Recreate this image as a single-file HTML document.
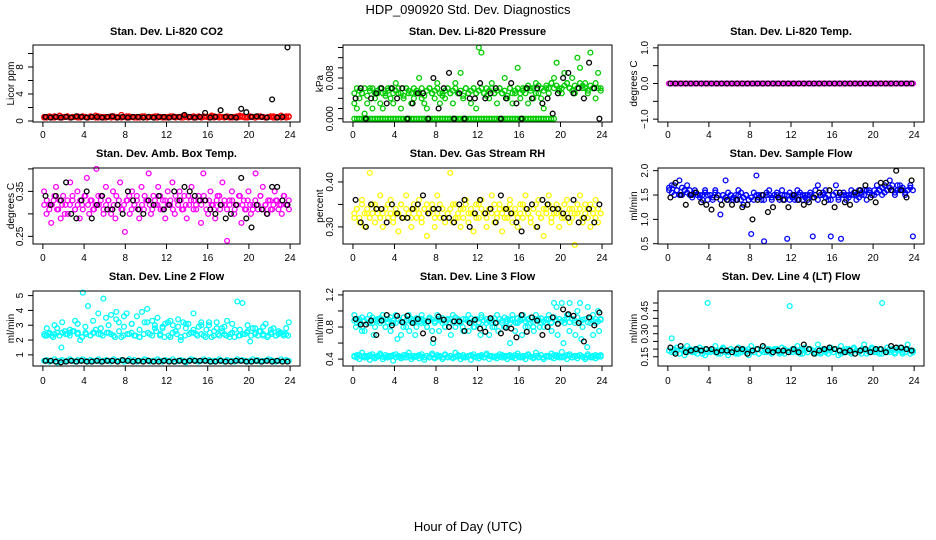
<!DOCTYPE html>
<html><head><meta charset="utf-8">
<style>
html,body{margin:0;padding:0;background:#fff;}
svg{display:block;font-family:"Liberation Sans",Arial,sans-serif;}
</style></head>
<body>
<svg id="chart" width="936" height="540" viewBox="0 0 936 540" xmlns="http://www.w3.org/2000/svg">
<text x="468" y="14" text-anchor="middle" font-size="13">HDP_090920  Std. Dev. Diagnostics</text>
<text x="468" y="531" text-anchor="middle" font-size="13">Hour of Day (UTC)</text>
</svg>
<script>
// ---- data ----
const xTicks = [0,4,8,12,16,20,24];
const panelTitles = ["Stan. Dev. Li-820 CO2","Stan. Dev. Li-820 Pressure","Stan. Dev. Li-820 Temp.","Stan. Dev. Amb. Box Temp.","Stan. Dev. Gas Stream RH","Stan. Dev. Sample Flow","Stan. Dev. Line 2 Flow","Stan. Dev. Line 3 Flow","Stan. Dev. Line 4 (LT) Flow"];
const yLabels = ["Licor ppm","kPa","degrees C","degrees C","percent","ml/min","ml/min","ml/min","ml/min"];
const yLimits = [[-0.15,11.26],[-0.00065,0.01449],[-1.08,1.08],[0.233,0.402],[0.262,0.431],[0.494,2.055],[0.25,5.31],[0.314,1.249],[0.09,0.578]];
const yTickVals = [[0,2,4,6,8,10],[0,0.002,0.004,0.006,0.008,0.010,0.012,0.014],[-1,-0.5,0,0.5,1],[0.25,0.30,0.35,0.40],[0.30,0.35,0.40],[0.5,1.0,1.5,2.0],[1,2,3,4,5],[0.4,0.6,0.8,1.0,1.2],[0.15,0.20,0.25,0.30,0.35,0.40,0.45,0.50]];
const yTickLabels = [["0","","4","","8",""],["0.000","","","","0.008","","",""],["\u22121.0","","0.0","","1.0"],["0.25","","0.35",""],["0.30","","0.40"],["0.5","1.0","1.5","2.0"],["1","2","3","4","5"],["0.4","","0.8","","1.2"],["0.15","","","0.30","","","0.45",""]];

const co2Red = [.6,.5,.7,.6,.5,.6,.8,.5,.6,.7,.5,.6,.6,.7,.5,.6,.6,.5,.7,.6,.8,.5,.6,.6,.5,.6,.7,.6,.5,.6,.9,.6,.5,.7,.6,.5,.6,.5,.6,.7,.5,.6,.6,.5,.7,.6,.5,.6,.5,.6,.7,.6,.6,.5,.8,.6,.5,.6,.7,.5,.6,.5,.7,.6,.6,.8,.5,.6,.7,.6,.5,.6,.6,.5,.6,.7,.8,.6,.5,.6,.7,.6,.5,.6,.7,.6,.5,.6,.6,.7,.5,.6,.8,.6,.5,.7];
const co2Red2 = [.5,.6,.6,.5,.7,.6,.5,.6,.6,.7,.5,.6,.6,.5,.6,.7,.6,.5,.6,.6,.5,.7,.6,.5,.6,.6,.5,.7,.6,.6,.5,.6,.7,.5,.6,.6,.5,.6,.7,.6,.5,.6,.6,.7,.5,.6,.6,.5,.6,.7,.6,.5,.6,.6,.5,.7,.6,.6,.5,.6,.7,.5,.6,.6,.5,.6,.7,.6,.5,.6,.6,.7,.5,.6,.6,.5,.6,.7,.6,.5,.6,.6,.5,.7,.6,.6,.5,.6,.7,.5,.6,.6,.5,.6,.7,.6];
const co2Black = [.6,.5,.6,.5,.6,.5,.7,.6,.5,.6,.6,.5,.6,.7,.5,.6,.5,.6,.6,.5,.6,.5,.6,.6,.5,.6,.6,.9,.6,.5,.6,1.2,.5,.6,1.6,.6,.6,.5,1.8,1.3,.6,.7,.6,.5,3.2,.5,.6,10.9];
const presGreen = [.003,.002,.004,.005,.001,.003,.006,.002,.004,.005,.003,.002,.005,.006,.004,.003,.007,.005,.002,.004,.006,.005,.003,.004,.005,.008,.004,.003,.002,.006,.005,.004,.007,.003,.005,.004,.006,.005,.003,.007,.005,.009,.004,.006,.005,.003,.006,.002,.014,.013,.005,.006,.004,.007,.005,.003,.006,.005,.008,.004,.006,.003,.005,.010,.004,.006,.005,.003,.006,.004,.007,.005,.004,.002,.006,.005,.007,.008,.011,.006,.005,.009,.007,.006,.008,.005,.012,.010,.006,.007,.005,.013,.006,.004,.009,.006];
const presCore = [.005,.006,.0055,.005,.006,.0045,.0055,.006,.005,.0055,.006,.005,.0045,.0055,.006,.005,.0055,.006,.005,.0045,.006,.0055,.005,.006,.0055,.005,.006,.0045,.0055,.006,.005,.0055,.006,.005,.0045,.0055,.006,.005,.0055,.006,.005,.0055,.0045,.006,.005,.0055,.006,.005,.0055,.006,.005,.0045,.0055,.006,.005,.0055,.006,.005,.0055,.0045,.006,.005,.0055,.006,.005,.0055,.006,.0065,.0055,.006,.005,.0065,.006,.0055,.0065,.006,.007,.006,.0065,.0055,.006,.0065,.007,.006,.0055,.0065,.006,.007,.0065,.006,.0055,.0065,.006,.007,.006,.0055];
const presGreenZero = [0,0,0,0,0,0,0,0,0,0,0,0,0,0,0,0,0,0,0,0,0,0,0,0,0,0,0,0,0,0,0,0,0,0,0,0,0,0,0,0,0,0,0,0,0,0,0,0,0,0,0,0,0,0,0,0,0,0,0,0,0,0,0,0,0,0,0,0,0,0,0,0,0,0,0,0,0,0,null,null,null,null,null,null,null,null,null,null,null,null,null,null,null,null,null,null];
const presBlack = [.004,.006,0,.004,.005,.006,.003,.006,.004,.006,0,.003,.005,.005,0,.008,.002,.006,.009,0,.005,0,.004,.004,.007,.004,.005,.006,0,.004,.007,.003,0,.006,.004,.006,.003,.004,.001,.005,.008,.009,.005,.006,.004,.011,.006,0];
const tempMagenta = [0,0,0,0,0,0,0,0,0,0,0,0,0,0,0,0,0,0,0,0,0,0,0,0,0,0,0,0,0,0,0,0,0,0,0,0,0,0,0,0,0,0,0,0,0,0,0,0,0,0,0,0,0,0,0,0,0,0,0,0,0,0,0,0,0,0,0,0,0,0,0,0,0,0,0,0,0,0,0,0,0,0,0,0,0,0,0,0,0,0,0,0,0,0,0,0,0,0,0,0,0,0,0,0,0,0,0,0,0,0,0,0,0,0,0,0,0,0,0,0];
const tempBlack = [0,0,0,0,0,0,0,0,0,0,0,0,0,0,0,0,0,0,0,0,0,0,0,0,0,0,0,0,0,0,0,0,0,0,0,0,0,0,0,0,0,0,0,0,0,0,0,0];
const ambMagenta = [.35,.30,.32,.28,.33,.36,.31,.29,.34,.32,.30,.37,.33,.31,.35,.29,.32,.34,.38,.30,.33,.31,.40,.32,.34,.30,.36,.33,.31,.35,.29,.32,.37,.31,.26,.33,.30,.35,.32,.34,.29,.36,.31,.33,.39,.30,.34,.32,.36,.31,.33,.29,.35,.32,.37,.30,.33,.35,.31,.34,.29,.32,.36,.33,.31,.34,.28,.39,.33,.30,.35,.32,.29,.34,.31,.37,.32,.24,.33,.35,.30,.32,.34,.28,.33,.31,.35,.30,.32,.39,.31,.34,.36,.32,.30,.33,.31,.35,.33,.32,.30,.34,.32,.31];
const ambCore = [.32,.33,.31,.32,.34,.31,.33,.32,.30,.33,.32,.34,.31,.32,.33,.31,.34,.32,.33,.31,.32,.34,.33,.31,.32,.33,.30,.32,.34,.33,.31,.32,.33,.34,.31,.32,.33,.31,.32,.34,.33,.32,.31,.33,.32,.34,.31,.33,.32,.33,.31,.34,.32,.33,.31,.32,.34,.33,.31,.32,.33,.32,.34,.31,.33,.32,.31,.33,.34,.32,.33,.31,.32,.33,.31,.32,.34,.32,.31,.33,.32,.31,.33,.32,.34,.31,.32,.33,.31,.32,.33,.31,.32,.34,.32,.33];
const ambBlack = [.34,.32,.34,.33,.37,.30,.29,.33,.35,.29,.32,.34,.31,.31,.32,.30,.35,.33,.31,.30,.33,.32,.34,.31,.32,.35,.33,.36,.35,.34,.33,.33,.31,.30,.32,.29,.30,.32,.38,.29,.27,.32,.31,.30,.36,.36,.33,.32];
const rhYellow = [.32,.34,.31,.36,.30,.33,.42,.35,.31,.33,.37,.30,.34,.32,.36,.31,.33,.29,.35,.32,.37,.33,.30,.34,.32,.36,.31,.34,.28,.33,.35,.30,.37,.32,.34,.31,.33,.42,.31,.35,.32,.30,.34,.36,.31,.33,.29,.35,.32,.36,.33,.30,.34,.37,.31,.33,.35,.29,.32,.34,.36,.31,.33,.30,.35,.32,.37,.33,.31,.34,.30,.36,.32,.28,.34,.37,.31,.33,.35,.30,.33,.32,.36,.31,.34,.26,.33,.37,.31,.35,.32,.30,.34,.36,.31,.33];
const rhCore = [.33,.34,.32,.35,.33,.34,.32,.33,.35,.34,.32,.33,.34,.35,.33,.32,.34,.33,.35,.32,.34,.33,.32,.35,.34,.33,.32,.34,.35,.33,.34,.32,.33,.35,.34,.32,.33,.34,.35,.32,.33,.34,.32,.35,.33,.34,.33,.32,.35,.34,.33,.32,.34,.33,.35,.32,.34,.33,.34,.32,.35,.33,.34,.32,.33,.35,.34,.33,.32,.34,.35,.33,.32,.34,.33,.35,.32,.34,.33,.34,.32,.35,.33,.34,.32,.33,.35,.34,.32,.33,.34,.35,.33,.32,.34,.33];
const rhBlack = [.36,.31,.30,.35,.34,.34,.31,.35,.33,.32,.32,.34,.35,.37,.33,.34,.34,.32,.32,.31,.35,.36,.30,.33,.36,.33,.34,.31,.37,.34,.33,.31,.29,.34,.35,.30,.36,.35,.34,.34,.33,.32,.36,.31,.32,.34,.31,.35];
const flowBlue = [1.6,1.7,1.5,1.6,1.8,1.5,1.6,1.7,1.6,1.5,1.6,1.5,1.5,1.4,1.6,1.5,1.5,1.4,1.6,1.5,1.1,1.5,1.8,1.4,1.5,1.4,1.5,1.6,1.4,1.3,1.5,1.4,0.7,1.4,1.9,1.5,1.4,0.55,1.5,1.6,1.4,1.5,1.5,1.4,1.6,1.5,0.6,1.4,1.5,1.4,1.6,1.5,1.4,1.5,1.4,1.5,0.65,1.6,1.7,1.5,1.5,1.6,1.4,0.65,1.5,1.7,1.4,0.6,1.5,1.4,1.5,1.6,1.5,1.4,1.6,1.5,1.6,1.4,1.6,1.5,1.5,1.7,1.6,1.5,1.7,1.6,1.8,1.7,1.5,1.6,1.7,1.6,1.5,1.6,1.7,0.65];
const flowCore = [1.65,1.55,1.7,1.6,1.5,1.65,1.6,1.55,1.5,1.45,1.55,1.5,1.45,1.5,1.55,1.4,1.5,1.45,1.55,1.5,1.4,1.5,1.45,1.55,1.5,1.45,1.4,1.5,1.55,1.45,1.5,1.4,1.45,1.55,1.5,1.45,1.5,1.4,1.55,1.5,1.45,1.5,1.55,1.45,1.5,1.4,1.5,1.55,1.45,1.5,1.4,1.55,1.5,1.45,1.5,1.55,1.45,1.5,1.4,1.5,1.55,1.45,1.5,1.4,1.5,1.55,1.45,1.5,1.55,1.5,1.45,1.5,1.55,1.5,1.45,1.55,1.5,1.6,1.55,1.5,1.6,1.55,1.6,1.65,1.55,1.6,1.65,1.6,1.55,1.7,1.6,1.65,1.55,1.6,1.65,1.6];
const flowBlack = [1.45,1.75,1.5,1.3,1.5,1.55,1.35,1.3,1.2,1.45,1.3,1.4,1.3,1.4,1.25,1.3,1.0,1.4,1.5,1.15,1.25,1.45,1.4,1.25,1.5,1.4,1.3,1.35,1.45,1.55,1.35,1.6,1.25,1.55,1.35,1.3,1.55,1.6,1.7,1.45,1.35,1.75,1.75,1.6,2.0,1.6,1.45,1.8];
const line2High = [2.4,2.3,2.5,2.3,2.4,2.8,2.3,2.5,2.6,2.4,2.5,2.6,3.3,2.4,2.0,5.2,2.5,4.3,2.3,2.5,2.7,3.8,2.4,4.8,3.5,2.5,3.7,2.3,3.9,3.2,2.2,3.6,3.8,2.4,3.1,2.3,3.6,2.2,3.9,3.2,4.1,2.4,3.3,2.8,3.5,2.3,2.9,3.1,3.2,2.2,3.0,2.6,3.4,2.0,3.2,2.8,3.1,2.5,3.8,2.4,2.9,3.2,2.3,2.7,3.0,2.2,2.6,3.2,2.3,2.8,2.4,3.3,2.2,2.5,2.7,4.6,2.3,4.5,2.4,2.6,1.9,2.8,2.5,2.3,2.6,2.4,3.1,2.3,2.5,2.8,2.3,2.4,2.5,2.3,2.4,3.2];
const line2Core = [2.3,2.4,2.2,2.5,1.5,2.4,2.3,2.6,2.5,2.2,2.4,2.3,2.5,2.4,2.3,2.5,2.4,2.2,2.6,2.3,2.4,2.5,2.3,2.2,2.4,2.5,2.3,2.6,2.4,2.2,2.3,2.5,2.4,2.2,2.3,2.4,2.5,2.3,2.4,2.2,2.5,2.3,2.4,2.6,2.3,2.4,2.2,2.3,2.4,2.5,2.3,2.4,2.6,2.3,2.2,2.4,2.3,2.5,2.4,2.3];
const line2Mid = [2.8,3.0,3.2,2.7,3.1,2.9,3.3,2.8,3.0,3.4,2.9,3.1,2.7,3.2,3.0,2.8,3.3,2.9,3.1,2.7,3.0,3.2,2.8,2.9,3.1,2.7,3.0,2.8,2.9,2.7,2.6,2.8];
const line2Low = [.6,.65,.55,.6,.7,.5,.6,.65,.55,.6,.7,.6,.55,.65,.6,.7,.6,.55,.65,.6,.6,.7,.55,.6,.65,.6,.55,.7,.6,.6,.65,.55,.6,.7,.6,.65,.55,.6,.6,.7,.65,.55,.6,.6,.7,.6,.55,.65,.6,.6,.7,.55,.6,.65,.6,.5,.6,.7,.65,.6,.55,.6,.7,.6,.65,.55,.6,.6,.7,.6,.55,.65,.6,.6,.55,.7,.6,.65,.6,.55,.6,.7,.6,.65,.55,.6,.6,.7,.65,.6,.55,.6,.7,.6,.65,.6];
const line2Black = [.6,.6,.55,.5,.55,.6,.55,.6,.55,.55,.6,.55,.6,.6,.55,.65,.6,.55,.6,.55,.6,.55,.55,.6,.55,.55,.6,.55,.6,.6,.6,.6,.55,.55,.6,.55,.55,.6,.6,.55,.55,.6,.55,.6,.55,.6,.55,.55];
const line3High = [.95,.85,.9,.8,.75,.9,.95,.85,.8,.9,.85,.95,.8,.9,.75,.85,.95,.9,.7,.85,.8,.95,.9,.85,.8,.9,.95,.85,.8,.9,.75,.85,.95,.9,.85,.8,.9,.85,.95,.8,.9,.85,.75,.9,.95,.85,.8,.9,.85,.95,.8,.9,.7,.85,.8,.95,.9,.85,.8,.9,.85,.95,.75,.85,.9,.95,.8,.9,.85,.8,.95,.9,.85,.8,.9,.95,.85,1.1,1.05,.9,1.1,.85,.95,1.1,.9,.85,1.0,1.1,.8,.9,1.05,.85,.95,.85,1.0,.9];
const line3Core = [.88,.9,.86,.92,.88,.9,.85,.92,.89,.87,.91,.88,.9,.86,.92,.88,.85,.9,.87,.92,.88,.9,.86,.89,.91,.87,.9,.88,.86,.92,.89,.87,.9,.88,.91,.86,.89,.9,.87,.92,.88,.86,.9,.89,.87,.91,.88,.9,.86,.92,.88,.9,.87,.89,.91,.86,.9,.88,.92,.87,.89,.9,.86,.91,.88,.9,.87,.89,.92,.86,.9,.88,.91,.87,.89,.9,.86,.92,.88,.9,.87,.89,.91,.86,.9,.88,.92,.87,.89,.9,.86,.91,.88,.9,.87,.89];
const line3Mid = [.8,.75,.85,.7,.9,.8,.85,.65,.8,.75,.7,.85,.8,.6,.75,.8,.7,.85,.8,.75,.8,.7,.85,.8,.75,.8,.6,.85,.7,.8,.75,.8,.85,.75,.7,.6,.75,.7,.65,.55,.7,.75];
const line3Low = [.43,.45,.40,.48,.42,.44,.39,.46,.41,.43,.47,.40,.45,.42,.44,.38,.46,.43,.41,.45,.42,.48,.40,.44,.43,.41,.46,.39,.44,.42,.47,.41,.45,.43,.40,.46,.42,.44,.41,.48,.43,.40,.45,.42,.44,.39,.46,.43,.41,.45,.42,.47,.40,.44,.43,.41,.46,.42,.44,.40,.45,.43,.41,.47,.42,.44,.40,.46,.43,.41,.48,.42,.45,.40,.44,.43,.47,.41,.45,.42,.49,.43,.40,.46,.42,.44,.41,.45,.43,.40,.46,.42,.44,.41,.43,.45];
const line3Low2 = [.44,.42,.45,.43,.44,.42,.45,.43,.42,.44,.45,.43,.42,.44,.43,.45,.42,.44,.43,.42,.45,.44,.43,.42,.44,.45,.43,.42,.44,.43,.45,.42,.43,.44,.42,.45,.43,.44,.42,.43,.45,.44,.42,.43,.44,.45,.43,.42,.44,.43,.42,.45,.44,.43,.42,.44,.43,.45,.42,.44,.43,.42,.45,.44,.43,.42,.44,.45,.43,.42,.44,.43,.45,.42,.43,.44,.42,.45,.43,.44,.42,.43,.45,.44,.42,.43,.44,.45,.43,.42,.44,.43,.42,.45,.44,.43];
const line3Black = [.9,.83,.83,.88,.7,.88,.95,.82,.94,.86,.94,.85,.9,.72,.87,.65,.93,.89,.8,.87,.87,.75,.85,.89,.78,.74,.91,.85,.72,.79,.78,.67,.95,.74,.92,.88,.7,.8,.92,.84,1.02,.96,.94,.85,.62,.92,.82,.98];
const line4Cyan = [.19,.27,.18,.21,.17,.2,.16,.22,.19,.18,.2,.17,.21,.19,.16,.5,.18,.2,.22,.17,.19,.21,.18,.16,.2,.19,.17,.21,.18,.2,.19,.16,.22,.18,.2,.17,.19,.21,.18,.2,.17,.19,.2,.18,.21,.17,.19,.48,.18,.2,.22,.19,.17,.21,.18,.2,.19,.17,.23,.18,.2,.19,.17,.21,.18,.2,.16,.22,.19,.18,.2,.17,.21,.19,.18,.2,.23,.17,.19,.21,.18,.2,.17,.5,.19,.21,.18,.2,.17,.19,.21,.18,.2,.23,.17,.19];
const line4Core = [.19,.18,.2,.19,.17,.2,.19,.18,.2,.19,.18,.2,.19,.17,.2,.18,.19,.2,.18,.19,.17,.2,.19,.18,.2,.19,.18,.17,.2,.19,.18,.2,.19,.18,.2,.17,.19,.18,.2,.19,.18,.2,.19,.17,.18,.2,.19,.18,.2,.19,.18,.17,.2,.19,.18,.2,.19,.18,.2,.17,.19,.18,.2,.19,.18,.2,.19,.17,.18,.2,.19,.18,.2,.19,.18,.17,.2,.19,.18,.2,.19,.18,.2,.17,.19,.18,.2,.19,.18,.2,.19,.17,.18,.2,.19,.18];
const line4Black = [.21,.17,.22,.18,.19,.2,.19,.2,.2,.18,.19,.19,.18,.2,.2,.17,.19,.2,.22,.19,.18,.19,.19,.18,.2,.18,.23,.2,.17,.19,.2,.21,.2,.19,.18,.19,.17,.19,.2,.18,.2,.2,.18,.22,.21,.21,.2,.19];

const panelSeries = [
  [[co2Red,"#ff0000"],[co2Red2,"#ff0000"],[co2Black,"#000000"]],
  [[presGreenZero,"#00cc00"],[presGreen,"#00cc00"],[presCore,"#00cc00"],[presBlack,"#000000"]],
  [[tempMagenta,"#ff00ff"],[tempBlack,"#000000"]],
  [[ambMagenta,"#ff00ff"],[ambCore,"#ff00ff"],[ambBlack,"#000000"]],
  [[rhYellow,"#ffff00"],[rhCore,"#ffff00"],[rhBlack,"#000000"]],
  [[flowBlue,"#0000ff"],[flowCore,"#0000ff"],[flowBlack,"#000000"]],
  [[line2High,"#00ffff"],[line2Core,"#00ffff"],[line2Mid,"#00ffff"],[line2Low,"#00ffff"],[line2Black,"#000000"]],
  [[line3High,"#00ffff"],[line3Core,"#00ffff"],[line3Mid,"#00ffff"],[line3Low,"#00ffff"],[line3Low2,"#00ffff"],[line3Black,"#000000"]],
  [[line4Cyan,"#00ffff"],[line4Core,"#00ffff"],[line4Black,"#000000"]]
];

// ---- layout ----
const cols = [{l:33,r:300,ylab:11},{l:343,r:612,ylab:320},{l:658,r:924,ylab:634}];
const rows = [{t:45,b:122,tl:35,xl:138},{t:168,b:244,tl:157,xl:261},{t:291,b:366,tl:280,xl:384}];
const NS = "http://www.w3.org/2000/svg";
const svg = document.getElementById("chart");
function mk(tag, attrs, parent){ const e=document.createElementNS(NS,tag); for(const k in attrs) e.setAttribute(k,attrs[k]); (parent||svg).appendChild(e); return e; }

panelTitles.forEach((title,p)=>{
  const c=cols[p%3], r=rows[Math.floor(p/3)];
  const g=mk("g",{});
  
  
  const xmin=-0.96, xmax=24.96;
  const xs=v=>c.l+(v-xmin)/(xmax-xmin)*(c.r-c.l);
  const [lo,hi]=yLimits[p];
  const ys=v=>r.b-(v-lo)/(hi-lo)*(r.b-r.t);
  const tt=mk("text",{x:(c.l+c.r)/2,y:r.tl,"text-anchor":"middle","font-size":"11","font-weight":"bold"},g);
  tt.textContent=title;
  
  
  const pg=mk("g",{fill:"none","stroke-width":"1.3"},g);
  
  
  panelSeries[p].forEach(([vals,col])=>{
    const n=vals.length;
    vals.forEach((v,i)=>{
      if(v===null) return;
      const t=(i+0.5)*24/n;
      const ci=mk("circle",{cx:xs(t).toFixed(1),cy:ys(v).toFixed(1),r:"2.4",stroke:col},pg);
      
      
    });
  });
  const bx=mk("rect",{x:c.l,y:r.t,width:c.r-c.l,height:r.b-r.t,fill:"none",stroke:"#000","stroke-width":"1"},g);
  
  
  const xa=mk("g",{stroke:"#000","stroke-width":"1"},g);
  
  
  mk("line",{x1:xs(xTicks[0]),x2:xs(xTicks[xTicks.length-1]),y1:r.b,y2:r.b},xa);
  xTicks.forEach(v=>{
    mk("line",{x1:xs(v),x2:xs(v),y1:r.b,y2:r.b+5},xa);
    const tx=mk("text",{x:xs(v),y:r.xl,"text-anchor":"middle","font-size":"10",stroke:"none",fill:"#000"},xa);
    tx.textContent=v;
    
    
  });
  const ya=mk("g",{stroke:"#000","stroke-width":"1"},g);
  
  
  const tv=yTickVals[p];
  mk("line",{x1:c.l,x2:c.l,y1:ys(tv[0]),y2:ys(tv[tv.length-1])},ya);
  tv.forEach((v,i)=>{
    mk("line",{x1:c.l-5,x2:c.l,y1:ys(v),y2:ys(v)},ya);
    const lab=yTickLabels[p][i];
    if(lab){
      const x=c.l-10, y=ys(v);
      const ty=mk("text",{x:x,y:y,"text-anchor":"middle","font-size":"10",stroke:"none",fill:"#000",transform:`rotate(-90 ${x} ${y})`},ya);
      ty.textContent=lab;
      
      
    }
  });
  const yl=mk("text",{x:c.ylab+3,y:(r.t+r.b)/2,"text-anchor":"middle","font-size":"10",transform:`rotate(-90 ${c.ylab+3} ${(r.t+r.b)/2})`},g);
  yl.textContent=yLabels[p];
  
  
});
</script>
</body></html>
